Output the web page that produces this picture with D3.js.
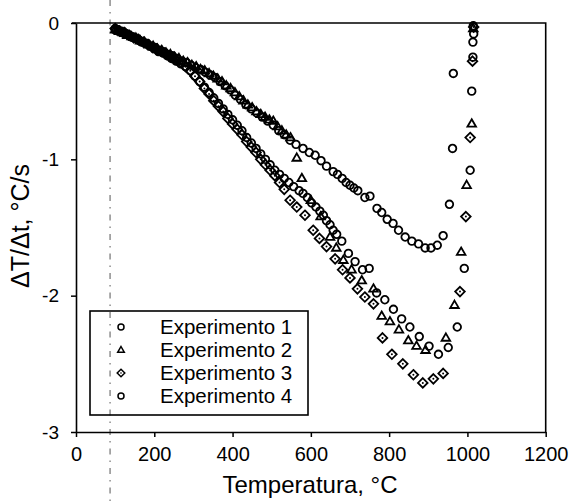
<!DOCTYPE html>
<html>
<head>
<meta charset="utf-8">
<script src="https://cdn.jsdelivr.net/npm/d3@7"></script>
<style>
  html, body { margin: 0; padding: 0; background: #fff; }
  svg { display: block; }
  text { font-family: "Liberation Sans", Arial, sans-serif; fill: #000; }
</style>
</head>
<body>
<svg id="chart" width="573" height="502"></svg>
<script>
// ---------------- data ----------------
const xTicks = [0, 200, 400, 600, 800, 1000, 1200];
const yTicks = [0, -1, -2, -3];
const xTitle = "Temperatura, °C";
const yTitle = "ΔT/Δt, °C/s";
const seriesNames = ["Experimento 1", "Experimento 2", "Experimento 3", "Experimento 4"];
const refLineT = 87;

// Experimento 1 (circles, upper curve)
const exp1T = [100,108,116,125,134,143,152,162,172,182,192,202,213,224,235,246,258,270,282,294,306,318,330,342,355,368,381,394,407,420,434,448,462,476,490,504,518,532,547,562,580,596,611,626,640,657,668,680,690,700,710,720,738,751,769,781,795,810,824,841,858,875,892,907,923,938,954,962,964,1014,1015];
const exp1V = [-0.05,-0.06,-0.07,-0.08,-0.09,-0.10,-0.11,-0.13,-0.14,-0.15,-0.17,-0.18,-0.20,-0.21,-0.23,-0.24,-0.26,-0.28,-0.29,-0.31,-0.33,-0.34,-0.36,-0.38,-0.40,-0.43,-0.46,-0.49,-0.53,-0.56,-0.60,-0.63,-0.66,-0.69,-0.72,-0.75,-0.79,-0.82,-0.86,-0.89,-0.92,-0.95,-0.97,-1.01,-1.05,-1.09,-1.11,-1.14,-1.17,-1.19,-1.21,-1.23,-1.28,-1.27,-1.36,-1.39,-1.44,-1.47,-1.52,-1.57,-1.60,-1.62,-1.65,-1.65,-1.63,-1.56,-1.33,-0.92,-0.37,-0.14,-0.02];

// Experimento 2 (triangles)
const exp2T = [100,110,120,131,142,153,164,175,186,197,208,219,230,241,252,263,274,285,296,307,318,329,340,351,362,373,384,395,406,417,428,439,450,461,472,483,494,504,515,526,537,548,564,577,600,625,649,665,683,704,730,760,781,802,825,849,870,893,945,967,984,998,1011,1015];
const exp2V = [-0.05,-0.06,-0.07,-0.09,-0.10,-0.11,-0.13,-0.14,-0.16,-0.17,-0.19,-0.20,-0.22,-0.23,-0.25,-0.26,-0.28,-0.29,-0.31,-0.32,-0.34,-0.35,-0.37,-0.39,-0.41,-0.43,-0.46,-0.48,-0.51,-0.54,-0.57,-0.60,-0.62,-0.65,-0.67,-0.69,-0.71,-0.72,-0.76,-0.79,-0.82,-0.84,-0.99,-1.14,-1.30,-1.42,-1.57,-1.65,-1.74,-1.81,-1.89,-1.95,-2.15,-2.19,-2.25,-2.33,-2.37,-2.40,-2.31,-2.07,-1.68,-1.19,-0.74,-0.04];

// Experimento 3 (diamonds)
const exp3T = [100,112,124,136,148,160,172,184,196,208,220,232,244,256,268,280,292,304,316,328,340,352,364,376,388,400,412,424,436,448,460,472,484,496,508,520,532,547,564,585,606,622,640,662,681,700,719,738,760,783,807,835,862,886,913,938,981,996,1007,1013,1016];
const exp3V = [-0.04,-0.06,-0.07,-0.09,-0.11,-0.12,-0.14,-0.16,-0.18,-0.20,-0.21,-0.23,-0.25,-0.27,-0.29,-0.32,-0.35,-0.39,-0.43,-0.48,-0.52,-0.57,-0.61,-0.65,-0.70,-0.74,-0.78,-0.82,-0.87,-0.91,-0.95,-1.00,-1.04,-1.08,-1.12,-1.17,-1.22,-1.30,-1.35,-1.41,-1.52,-1.58,-1.64,-1.73,-1.81,-1.87,-1.95,-2.01,-2.06,-2.31,-2.43,-2.50,-2.58,-2.64,-2.61,-2.57,-1.97,-1.42,-0.84,-0.28,-0.03];

// Experimento 4 (circles, lower curve)
const exp4T = [100,107,114,122,130,139,148,158,168,178,189,200,211,222,233,244,256,268,280,292,304,316,328,340,352,364,376,388,400,412,424,436,448,460,472,484,496,508,520,532,544,556,570,580,591,602,613,623,632,640,649,657,666,679,696,713,732,749,768,789,811,832,853,877,902,926,951,974,992,1007,1011,1014,1016];
const exp4V = [-0.04,-0.05,-0.06,-0.07,-0.08,-0.10,-0.11,-0.12,-0.14,-0.15,-0.17,-0.19,-0.21,-0.22,-0.24,-0.26,-0.28,-0.30,-0.32,-0.35,-0.39,-0.43,-0.47,-0.51,-0.55,-0.59,-0.63,-0.67,-0.71,-0.75,-0.79,-0.84,-0.88,-0.92,-0.96,-1.00,-1.04,-1.08,-1.11,-1.14,-1.17,-1.20,-1.23,-1.25,-1.28,-1.32,-1.35,-1.38,-1.41,-1.45,-1.48,-1.52,-1.55,-1.60,-1.69,-1.75,-1.81,-1.80,-1.98,-2.03,-2.10,-2.17,-2.23,-2.30,-2.37,-2.43,-2.38,-2.23,-1.80,-1.08,-0.50,-0.25,-0.08];

// ---------------- chart ----------------
const svg = d3.select("#chart");
const W = 573, H = 502;
const margin = { left: 76, right: 27.3, top: 23, bottom: 70 };
const x = d3.scaleLinear().domain([0, 1200]).range([margin.left, W - margin.right]);
const y = d3.scaleLinear().domain([-3, 0]).range([H - margin.bottom, margin.top]);

const shapes = {
  circle: "M3.8,0A3.8,3.8,0,1,1,-3.8,0A3.8,3.8,0,1,1,3.8,0Z",
  triangle: "M0,-4.6L4.3,2.8L-4.3,2.8Z",
  diamond: "M0,-4.8L4.8,0L0,4.8L-4.8,0Z"
};
const legendShapes = {
  circle: "M3,0A3,3,0,1,1,-3,0A3,3,0,1,1,3,0Z",
  triangle: "M0,-3.5L3.3,2.3L-3.3,2.3Z",
  diamond: "M0,-3.8L3.8,0L0,3.8L-3.8,0Z"
};

const series = [
  { name: seriesNames[0], T: exp1T, V: exp1V, shape: "circle" },
  { name: seriesNames[1], T: exp2T, V: exp2V, shape: "triangle" },
  { name: seriesNames[2], T: exp3T, V: exp3V, shape: "diamond" },
  { name: seriesNames[3], T: exp4T, V: exp4V, shape: "circle" }
];

// reference dash-dot vertical line
svg.append("line")
  .attr("x1", x(refLineT)).attr("x2", x(refLineT))
  .attr("y1", 0).attr("y2", H)
  .attr("stroke", "#555").attr("stroke-width", 1)
  .attr("stroke-dasharray", "6,6,1.5,6");

// axes
const fmt = d => String(d);
const xAxis = svg.append("g")
  .attr("transform", `translate(0,${y(-3)})`)
  .call(d3.axisBottom(x).tickValues(xTicks).tickFormat(fmt).tickSizeInner(5).tickSizeOuter(0).tickPadding(10));
const yAxis = svg.append("g")
  .attr("transform", `translate(${x(0)},0)`)
  .call(d3.axisLeft(y).tickValues(yTicks).tickFormat(fmt).tickSizeInner(5).tickSizeOuter(0).tickPadding(12));
[xAxis, yAxis].forEach(g => {
  g.select(".domain").attr("stroke", "#000").attr("stroke-width", 1.6);
  g.selectAll(".tick line").attr("stroke", "#000").attr("stroke-width", 1.5);
  g.selectAll(".tick text").attr("fill", "#000").style("font-family", '"Liberation Sans", Arial, sans-serif');
});
xAxis.selectAll(".tick text").style("font-size", "20px");
yAxis.selectAll(".tick text").style("font-size", "19px");

// frame (top & right)
svg.append("path")
  .attr("d", `M${x(0) - 4},${y(0)}H${x(1200)}V${y(-3)}`)
  .attr("fill", "none").attr("stroke", "#000").attr("stroke-width", 1.6);

// points
series.forEach(s => {
  const pts = s.T.map((t, i) => [t, s.V[i]]);
  const g = svg.append("g");
  g.selectAll("path").data(pts).join("path")
    .attr("transform", d => `translate(${x(d[0])},${y(d[1])})`)
    .attr("d", shapes[s.shape])
    .attr("fill", "none").attr("stroke", "#000").attr("stroke-width", 1.8);
  if (s.shape === "diamond") {
    g.selectAll("circle").data(pts).join("circle")
      .attr("cx", d => x(d[0])).attr("cy", d => y(d[1]))
      .attr("r", 1).attr("fill", "#000");
  }
});

// legend
const lg = svg.append("g");
lg.append("rect").attr("x", 90).attr("y", 311).attr("width", 218).attr("height", 104)
  .attr("fill", "none").attr("stroke", "#000").attr("stroke-width", 1.6);
series.forEach((s, i) => {
  const cy = 327 + i * 23;
  lg.append("path").attr("transform", `translate(121,${cy})`)
    .attr("d", legendShapes[s.shape]).attr("fill", "none").attr("stroke", "#000").attr("stroke-width", 1.5);
  if (s.shape === "diamond") lg.append("circle").attr("cx", 121).attr("cy", cy).attr("r", 0.8).attr("fill", "#000");
  lg.append("text").attr("x", 160).attr("y", cy).attr("dy", "0.35em")
    .style("font-size", "20.5px").text(s.name);
});

// titles
svg.append("text").attr("x", 310).attr("y", 493).attr("text-anchor", "middle")
  .style("font-size", "24px").text(xTitle);
svg.append("text").attr("transform", `translate(29,226) rotate(-90)`).attr("text-anchor", "middle")
  .style("font-size", "25px").text(yTitle);
</script>
</body>
</html>
